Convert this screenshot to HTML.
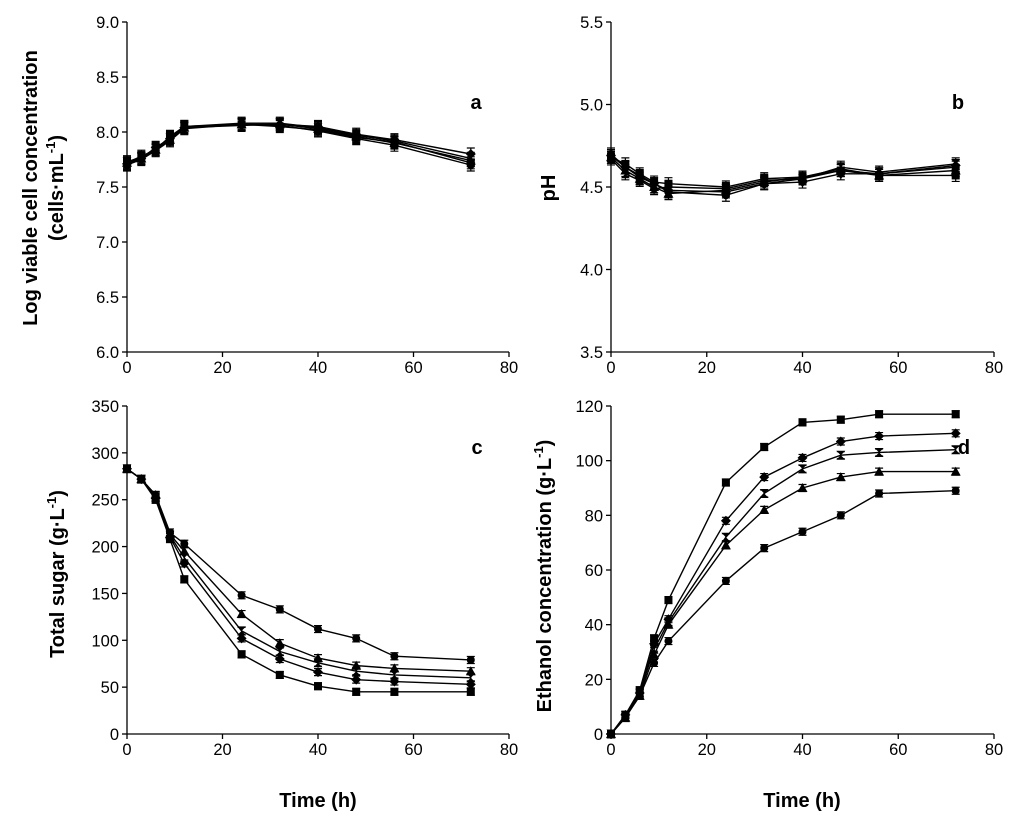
<!DOCTYPE html>
<html><head><meta charset="utf-8"><style>
body{margin:0;background:#fff}
svg{font-family:"Liberation Sans",Arial,sans-serif}
</style></head><body>
<svg id="fig" width="1024" height="828" viewBox="0 0 1024 828" xmlns="http://www.w3.org/2000/svg"></svg>
<script>
const times=[0,3,6,9,12,24,32,40,48,56,72];
const xTicks=[0,20,40,60,80];
// panel a: log viable cells
const aCircle=[7.70,7.75,7.83,7.92,8.03,8.07,8.06,8.01,7.94,7.88,7.70];
const aTriangle=[7.72,7.76,7.84,7.93,8.04,8.07,8.07,8.03,7.96,7.90,7.74];
const aHour=[7.73,7.77,7.85,7.95,8.05,8.08,8.08,8.04,7.97,7.92,7.76];
const aDiamond=[7.71,7.76,7.86,7.94,8.04,8.06,8.07,8.05,7.98,7.93,7.80];
const aSquare=[7.72,7.78,7.84,7.96,8.05,8.07,8.05,8.02,7.95,7.91,7.72];
const aTicks=[6.0,6.5,7.0,7.5,8.0,8.5,9.0];
// panel b: pH
const bCircle=[4.70,4.62,4.57,4.52,4.47,4.45,4.52,4.55,4.60,4.58,4.62];
const bTriangle=[4.68,4.60,4.55,4.50,4.46,4.48,4.53,4.56,4.61,4.57,4.60];
const bHour=[4.67,4.58,4.54,4.49,4.50,4.49,4.54,4.55,4.62,4.59,4.64];
const bDiamond=[4.69,4.62,4.56,4.52,4.48,4.47,4.52,4.53,4.58,4.58,4.63];
const bSquare=[4.68,4.64,4.58,4.53,4.52,4.50,4.55,4.56,4.60,4.57,4.57];
const bTicks=[3.5,4.0,4.5,5.0,5.5];
// panel c: total sugar
const cCircle=[283,272,255,215,203,148,133,112,102,83,79];
const cTriangle=[283,272,255,213,195,128,97,81,73,70,67];
const cHour=[283,272,253,212,188,110,88,76,67,63,60];
const cDiamond=[283,272,252,210,182,102,80,66,58,56,53];
const cSquare=[283,272,250,208,165,85,63,51,45,45,45];
const cTicks=[0,50,100,150,200,250,300,350];
// panel d: ethanol
const dSquare=[0,7,16,35,49,92,105,114,115,117,117];
const dDiamond=[0,7,15,33,42,78,94,101,107,109,110];
const dHour=[0,6,15,31,41,72,88,97,102,103,104];
const dTriangle=[0,6,14,29,40,69,82,90,94,96,96];
const dCircle=[0,6,14,26,34,56,68,74,80,88,89];
const dTicks=[0,20,40,60,80,100,120];

const NS="http://www.w3.org/2000/svg";
const svg=document.getElementById('fig');
function mk(tag,attrs,parent){const e=document.createElementNS(NS,tag);for(const k in attrs)e.setAttribute(k,attrs[k]);(parent||svg).appendChild(e);return e;}

function panel(cfg){
  const g=mk('g',{});
  
  
  const X=v=>cfg.x0+(v-0)/80*(cfg.x1-cfg.x0);
  const Y=v=>cfg.yb-(v-cfg.ymin)/(cfg.ymax-cfg.ymin)*(cfg.yb-cfg.yt);
  const ax=mk('path',{d:`M${cfg.x0},${cfg.yt}V${cfg.yb}H${cfg.x1}`,fill:'none',stroke:'#000','stroke-width':1.3},g);
  
  
  cfg.yticks.forEach(t=>{
    mk('line',{x1:cfg.x0-5,x2:cfg.x0,y1:Y(t),y2:Y(t),stroke:'#000','stroke-width':1.3},g);
    const tx=mk('text',{x:cfg.x0-8,y:Y(t)+6,'text-anchor':'end','font-size':16.5},g);
    tx.textContent=cfg.fmt(t);
    
    
  });
  xTicks.forEach(t=>{
    mk('line',{x1:X(t),x2:X(t),y1:cfg.yb,y2:cfg.yb+5,stroke:'#000','stroke-width':1.3},g);
    const tx=mk('text',{x:X(t),y:cfg.yb+21,'text-anchor':'middle','font-size':16.5},g);
    tx.textContent=t;
    
    
  });
  const lt=mk('text',{x:cfg.lx,y:cfg.ly,'font-size':20,'font-weight':'bold','text-anchor':'middle'},g);
  lt.textContent=cfg.letter;
  
  
  cfg.series.forEach(s=>{
    const sg=mk('g',{},g);
    
    
    mk('polyline',{points:times.map((t,i)=>X(t)+','+Y(s.v[i])).join(' '),fill:'none',stroke:'#000','stroke-width':1.4},sg);
    times.forEach((t,i)=>{
      const cx=X(t),cy=Y(s.v[i]),e=cfg.err;
      mk('path',{d:`M${cx},${cy-e}V${cy+e}M${cx-4},${cy-e}H${cx+4}M${cx-4},${cy+e}H${cx+4}`,stroke:'#000','stroke-width':1.2},sg);
      let m;
      if(s.shape==='circle')m=mk('circle',{cx,cy,r:4},sg);
      else if(s.shape==='square')m=mk('rect',{x:cx-4,y:cy-4,width:8,height:8},sg);
      else if(s.shape==='diamond')m=mk('path',{d:`M${cx},${cy-5}L${cx+5},${cy}L${cx},${cy+5}L${cx-5},${cy}Z`},sg);
      else if(s.shape==='triangle')m=mk('path',{d:`M${cx},${cy-5}L${cx+5},${cy+4}L${cx-5},${cy+4}Z`},sg);
      else m=mk('path',{d:`M${cx-4.5},${cy-4.5}H${cx+4.5}L${cx-4.5},${cy+4.5}H${cx+4.5}Z`},sg);
      m.setAttribute('fill','#000');
      
      
    });
  });
}
const f1=v=>v.toFixed(1), f0=v=>String(v);
panel({name:'panel-a',x0:127,x1:509,yt:22,yb:352,ymin:6,ymax:9,yticks:aTicks,fmt:f1,letter:'a',lx:476,ly:109,err:6,
  series:[{shape:'circle',v:aCircle},{shape:'triangle',v:aTriangle},{shape:'hour',v:aHour},{shape:'diamond',v:aDiamond},{shape:'square',v:aSquare}]});
panel({name:'panel-b',x0:611,x1:994,yt:22,yb:352,ymin:3.5,ymax:5.5,yticks:bTicks,fmt:f1,letter:'b',lx:958,ly:109,err:6,
  series:[{shape:'circle',v:bCircle},{shape:'triangle',v:bTriangle},{shape:'hour',v:bHour},{shape:'diamond',v:bDiamond},{shape:'square',v:bSquare}]});
panel({name:'panel-c',x0:127,x1:509,yt:406,yb:734,ymin:0,ymax:350,yticks:cTicks,fmt:f0,letter:'c',lx:477,ly:454,err:3.5,
  series:[{shape:'circle',v:cCircle},{shape:'triangle',v:cTriangle},{shape:'hour',v:cHour},{shape:'diamond',v:cDiamond},{shape:'square',v:cSquare}]});
panel({name:'panel-d',x0:611,x1:994,yt:406,yb:734,ymin:0,ymax:120,yticks:dTicks,fmt:f0,letter:'d',lx:964,ly:454,err:3.5,
  series:[{shape:'square',v:dSquare},{shape:'diamond',v:dDiamond},{shape:'hour',v:dHour},{shape:'triangle',v:dTriangle},{shape:'circle',v:dCircle}]});
</script>
<svg style="position:absolute;left:0;top:0" width="1024" height="828" xmlns="http://www.w3.org/2000/svg" font-family="Liberation Sans, Arial, sans-serif" font-weight="bold" font-size="20">
<text transform="translate(37,188) rotate(-90)" text-anchor="middle">Log viable cell concentration</text>
<text transform="translate(63,188) rotate(-90)" text-anchor="middle">(cells·mL<tspan font-size="13" dy="-8">-1</tspan><tspan dy="8">)</tspan></text>
<text transform="translate(555,188) rotate(-90)" text-anchor="middle">pH</text>
<text transform="translate(64,574) rotate(-90)" text-anchor="middle">Total sugar (g·L<tspan font-size="13" dy="-8">-1</tspan><tspan dy="8">)</tspan></text>
<text transform="translate(551,576) rotate(-90)" text-anchor="middle">Ethanol concentration (g·L<tspan font-size="13" dy="-8">-1</tspan><tspan dy="8">)</tspan></text>
<text x="318" y="807" text-anchor="middle">Time (h)</text>
<text x="802" y="807" text-anchor="middle">Time (h)</text>
</svg>
</body></html>
